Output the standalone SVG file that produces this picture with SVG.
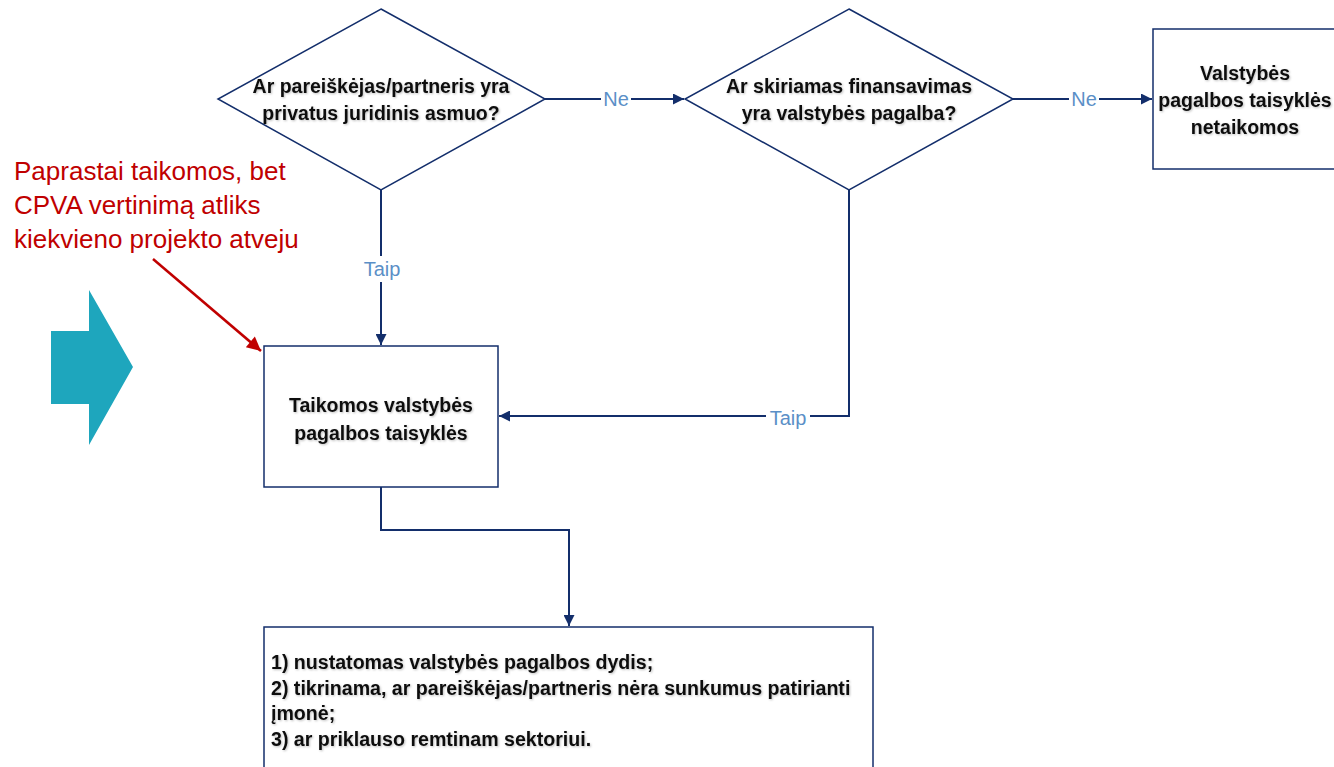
<svg xmlns="http://www.w3.org/2000/svg" width="1334" height="767" viewBox="0 0 1334 767">
<style>
.shape{fill:#fff;stroke:#132e6b;stroke-width:1.5}
.conn{fill:none;stroke:#132e6b;stroke-width:2}
.lbl{font-family:"Liberation Sans",Arial,sans-serif;font-size:20px;fill:#5b8fc7;text-anchor:middle}
.t{font-family:"Liberation Sans",Arial,sans-serif;font-size:19.5px;font-weight:bold;fill:#111;text-anchor:middle}
.tl{font-family:"Liberation Sans",Arial,sans-serif;font-size:19.6px;font-weight:bold;fill:#111}
.red{font-family:"Liberation Sans",Arial,sans-serif;font-size:26px;fill:#c00000}
.bg{fill:#fff}
</style>
<defs>
<marker id="ah" viewBox="0 0 10 10" refX="10" refY="5" markerWidth="12" markerHeight="11" markerUnits="userSpaceOnUse" orient="auto">
<path d="M0,0 L10,5 L0,10 z" fill="#132e6b"/>
</marker>
<marker id="ahr" viewBox="0 0 10 10" refX="10" refY="5" markerWidth="16" markerHeight="14" orient="auto" markerUnits="userSpaceOnUse">
<path d="M0,0 L10,5 L0,10 z" fill="#c00000"/>
</marker>
<filter id="sh" x="-5%" y="-20%" width="110%" height="140%">
<feDropShadow dx="1" dy="1" stdDeviation="1" flood-color="#000" flood-opacity="0.25"/>
</filter>
</defs>
<rect width="1334" height="767" fill="#fff"/>
<g id="connectors">
<path class="conn" d="M545,99 H684" marker-end="url(#ah)"/>
<rect class="bg" x="601" y="88" width="30" height="22"/>
<text class="lbl" x="616" y="106">Ne</text>
<path class="conn" d="M1013,99 H1152" marker-end="url(#ah)"/>
<rect class="bg" x="1069" y="88" width="30" height="22"/>
<text class="lbl" x="1084" y="106">Ne</text>
<path class="conn" d="M381,190 V345" marker-end="url(#ah)"/>
<rect class="bg" x="360" y="256" width="44" height="26"/>
<text class="lbl" x="382" y="276">Taip</text>
<path class="conn" d="M849,190 V416 H499" marker-end="url(#ah)"/>
<rect class="bg" x="766" y="405" width="44" height="24"/>
<text class="lbl" x="788" y="425">Taip</text>
<path class="conn" d="M381,487 V530 H569 V626" marker-end="url(#ah)"/>
<path d="M153,259 L261,351" fill="none" stroke="#c00000" stroke-width="2.5" marker-end="url(#ahr)"/>
</g>
<g id="q1">
<polygon class="shape" points="381,9 545,99 381,190 218,99"/>
<text class="t" x="381" y="93" filter="url(#sh)">Ar pareiškėjas/partneris yra</text>
<text class="t" x="381" y="120" filter="url(#sh)">privatus juridinis asmuo?</text>
</g>
<g id="q2">
<polygon class="shape" points="849,9 1013,99 849,190 685,99"/>
<text class="t" x="849" y="93" filter="url(#sh)">Ar skiriamas finansavimas</text>
<text class="t" x="849" y="120" filter="url(#sh)">yra valstybės pagalba?</text>
</g>
<g id="notapplied">
<rect class="shape" x="1153" y="29" width="190" height="140"/>
<text class="t" x="1245" y="80" filter="url(#sh)">Valstybės</text>
<text class="t" x="1245" y="107" filter="url(#sh)">pagalbos taisyklės</text>
<text class="t" x="1245" y="134" filter="url(#sh)">netaikomos</text>
</g>
<g id="applied">
<rect class="shape" x="264" y="346" width="234" height="141"/>
<text class="t" x="381" y="412" filter="url(#sh)">Taikomos valstybės</text>
<text class="t" x="381" y="440" filter="url(#sh)">pagalbos taisyklės</text>
</g>
<g id="steps">
<rect class="shape" x="264" y="627" width="609" height="150"/>
<text class="tl" x="271" y="669" filter="url(#sh)">1) nustatomas valstybės pagalbos dydis;</text>
<text class="tl" x="271" y="695" filter="url(#sh)">2) tikrinama, ar pareiškėjas/partneris nėra sunkumus patirianti</text>
<text class="tl" x="271" y="720" filter="url(#sh)">įmonė;</text>
<text class="tl" x="271" y="746" filter="url(#sh)">3) ar priklauso remtinam sektoriui.</text>
</g>
<g id="note">
<text class="red" x="14" y="180">Paprastai taikomos, bet</text>
<text class="red" x="14" y="214">CPVA vertinimą atliks</text>
<text class="red" x="14" y="248">kiekvieno projekto atveju</text>
</g>
<g id="bigarrow">
<polygon points="51,331 89,331 89,290 133,367 89,445 89,404 51,404" fill="#1ea6bd"/>
</g>
</svg>
